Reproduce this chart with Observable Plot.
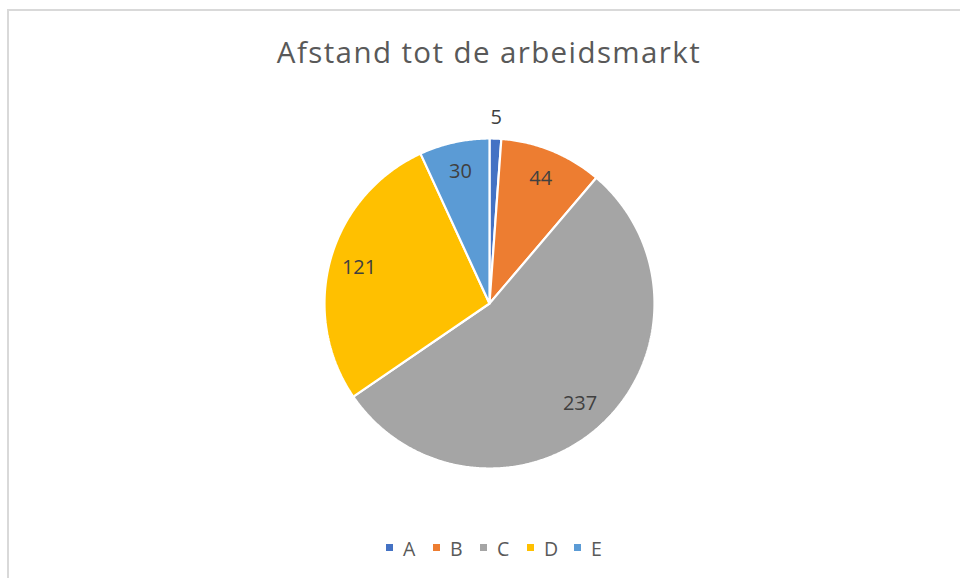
<!DOCTYPE html>
<html>
<head>
<meta charset="utf-8">
<script src="https://cdn.jsdelivr.net/npm/d3@7"></script>
<script src="https://cdn.jsdelivr.net/npm/@observablehq/plot@0.6"></script>
<style>
  html, body { margin: 0; padding: 0; width: 960px; height: 578px; overflow: hidden; background: #fff; }
  #frame { position: absolute; left: 7px; top: 9px; width: 1000px; height: 1000px; border: 2px solid #d9d9d9; box-sizing: border-box; }
  #title { position: absolute; left: 0; width: 978px; top: 37px; line-height: 29px; text-align: center; font-family: "Open Sans", "Noto Sans", sans-serif; font-size: 29.5px; letter-spacing: 1.4px; color: #595959; }
  #chart { position: absolute; left: 0; top: 103px; }
  #legend { position: absolute; left: 386px; top: 539px; display: flex; font-family: "Open Sans", "Noto Sans", sans-serif; font-size: 19.5px; line-height: 19px; color: #595959; }
  .item { display: flex; align-items: center; width: 47px; }
  .sw { width: 7px; height: 7px; margin-right: 10px; margin-top: -3px; }
</style>
</head>
<body>
<div id="frame"></div>
<div id="title">Afstand tot de arbeidsmarkt</div>
<div id="chart"></div>
<div id="legend"></div>
<script>
const categories = ["A", "B", "C", "D", "E"];
const values = [5, 44, 237, 121, 30];
const colors = ["#4472C4", "#ED7D31", "#A5A5A5", "#FFC000", "#5B9BD5"];

const data = categories.map((c, i) => ({category: c, value: values[i]}));
const arcs = d3.pie().sort(null).value(d => d.value).startAngle(0).endAngle(2 * Math.PI)(data);
const total = d3.sum(values);

// slice outlines in unit-circle coordinates (angle clockwise from top)
const pts = [];
for (const a of arcs) {
  const key = a.data.category;
  pts.push({key, x: 0, y: 0});
  const n = Math.max(2, Math.ceil((a.endAngle - a.startAngle) / (Math.PI / 360)));
  for (let k = 0; k <= n; k++) {
    const t = a.startAngle + (a.endAngle - a.startAngle) * k / n;
    pts.push({key, x: Math.sin(t), y: Math.cos(t)});
  }
  pts.push({key, x: 0, y: 0});
}
const labels = arcs.map(a => {
  const m = (a.startAngle + a.endAngle) / 2;
  const r = a.data.value / total < 0.03 ? 1.13 : 0.82;
  return {label: String(a.data.value), x: Math.sin(m) * r, y: Math.cos(m) * r};
});

const cx = 489, cy = 200, R = 165;
const plot = Plot.plot({
  width: 960,
  height: 400,
  margin: 0,
  x: {domain: [-1, 1], range: [cx - R, cx + R], axis: null},
  y: {domain: [-1, 1], range: [cy + R, cy - R], axis: null},
  color: {domain: categories, range: colors},
  marks: [
    Plot.line(pts, {x: "x", y: "y", z: "key", fill: "key", stroke: "white", strokeWidth: 2.2, strokeLinejoin: "miter", curve: "linear"}),
    Plot.text(labels, {x: "x", y: "y", text: "label", fontSize: 20, fill: "#404040", fontFamily: "'Open Sans', 'Noto Sans', sans-serif"})
  ],
  style: {background: "transparent", overflow: "visible"}
});
document.getElementById("chart").appendChild(plot);

const legend = document.getElementById("legend");
categories.forEach((c, i) => {
  const it = document.createElement("div");
  it.className = "item";
  const sw = document.createElement("div");
  sw.className = "sw";
  sw.style.background = colors[i];
  const tx = document.createElement("span");
  tx.textContent = c;
  it.appendChild(sw); it.appendChild(tx);
  legend.appendChild(it);
});
</script>
</body>
</html>
